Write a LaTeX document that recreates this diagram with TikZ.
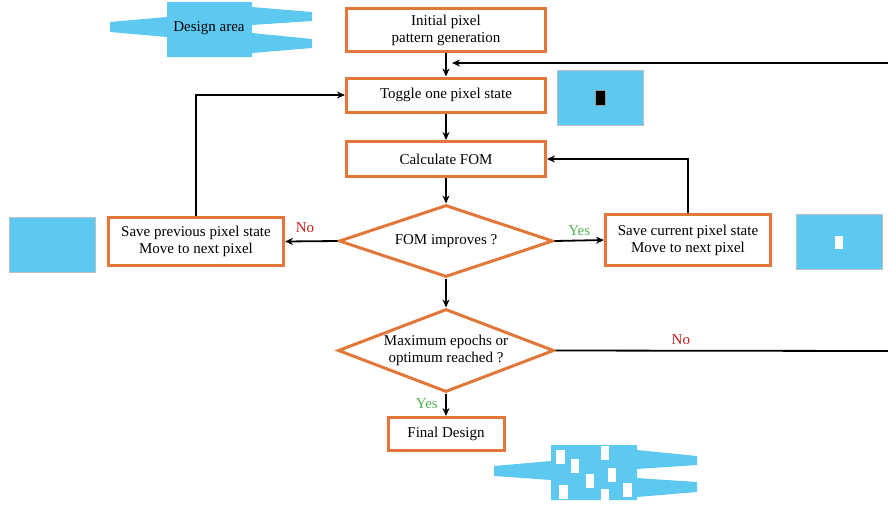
\documentclass[tikz,border=0pt]{standalone}
\usepackage{fontspec}
\setmainfont{Liberation Serif}
\usetikzlibrary{shapes.geometric,arrows.meta}
\definecolor{boxorange}{RGB}{226,119,58}
\definecolor{pixblue}{RGB}{93,201,240}
\definecolor{nored}{RGB}{200,30,30}
\definecolor{yesgreen}{RGB}{80,180,80}
\begin{document}
\begin{tikzpicture}[x=1pt,y=-1pt,
    font=\fontsize{15}{17}\selectfont,
    box/.style={draw=boxorange, line width=3pt, fill=white, align=center, inner sep=1pt},
    decision/.style={diamond, draw=boxorange, line width=3pt, align=center, inner sep=1pt},
    arr/.style={line width=1.8pt, -{Stealth[length=8pt,width=7pt]}},
    line/.style={line width=1.8pt},
    pixarea/.style={fill=pixblue, draw=black!25, line width=0.6pt, minimum width=86, minimum height=55, inner sep=0pt},
    cell/.style={inner sep=0pt, minimum width=#1, minimum height=14}]
      \useasboundingbox (0,0) rectangle (888,504);

      % design area shapes
      \fill[pixblue] (110,22) -- (167,17) -- (167,2) -- (252,2) -- (252,7) -- (312,12) -- (312,21) -- (252,25)
        -- (252,33) -- (312,39) -- (312,48) -- (252,53) -- (252,57) -- (167,57) -- (167,37) -- (110,32) -- cycle;
      \node(darea) at (209,28){Design area};

      \fill[pixblue] (494,466) -- (551,461) -- (551,445) -- (637,445) -- (637,450) -- (697,456) -- (697,465) -- (637,469)
        -- (637,478) -- (697,482) -- (697,492) -- (637,497) -- (637,500) -- (551,500) -- (551,480) -- (494,476) -- cycle;
      \foreach \px/\py in {560.5/457,575/466,605/452.5,590/481,612/474.5,563.5/491.5,627.5/490,605/496}
        \fill[white] (\px-4.3,\py-7) rectangle (\px+4.3,\py+7);

      % flow boxes
      \node[box, minimum width=199, minimum height=43](init) at (446,30){Initial pixel\\pattern generation};
      \node[box, minimum width=199, minimum height=34](toggle) at (446,95){Toggle one pixel state};
      \node[box, minimum width=199, minimum height=35](calc) at (446,159){Calculate FOM};
      \node[decision, minimum width=214, minimum height=72, aspect=2.9](fom) at (446,241){FOM improves ?};
      \node[box, minimum width=175, minimum height=48](savep) at (196,241.5){Save previous pixel state\\Move to next pixel};
      \node[box, minimum width=165, minimum height=51](savec) at (688,240){Save current pixel state\\Move to next pixel};
      \node[decision, minimum width=216, minimum height=83, aspect=2.56](maxep) at (446,350.5){Maximum epochs or\\optimum reached ?};
      \node[box, minimum width=116, minimum height=33](final) at (446,434){Final Design};

      % pixel pictures
      \node[pixarea](pleft) at (52.5,244.5){};
      \node[pixarea](ptop) at (600,97.5){};
      \node[fill=black, draw=black!40, cell=10, minimum height=15] at (ptop){};
      \node[pixarea](pright) at (839,242){};
      \node[fill=white, cell=8, minimum height=13] at (pright){};

      % connectors
      \draw[arr] (init.south) -- (toggle.north);
      \draw[arr] (toggle.south) -- (calc.north);
      \draw[arr] (calc.south) -- (fom.north);
      \draw[arr] (fom.west) -- (savep.east) node[pos=0.62, above=4pt, text=nored]{No};
      \draw[arr] (fom.east) -- (savec.west) node[pos=0.5, above=1pt, text=yesgreen]{Yes};
      \draw[arr] (savep.north) |- (toggle.west);
      \draw[arr] (savec.north) |- (calc.east);
      \draw[arr] (fom.south) -- (maxep.north);
      \draw[arr] (maxep.south) -- (final.north) node[pos=0.45, left=4pt, text=yesgreen]{Yes};

      \coordinate(rb) at (888,351);
      \coordinate(rt) at (888,63);
      \coordinate(back) at (452,63);
      \draw[line] (maxep.east) -- (rb) node[pos=0.377, above=2pt, text=nored]{No};
      \draw[arr] (rt) -- (back);

    \end{tikzpicture}
\end{document}
